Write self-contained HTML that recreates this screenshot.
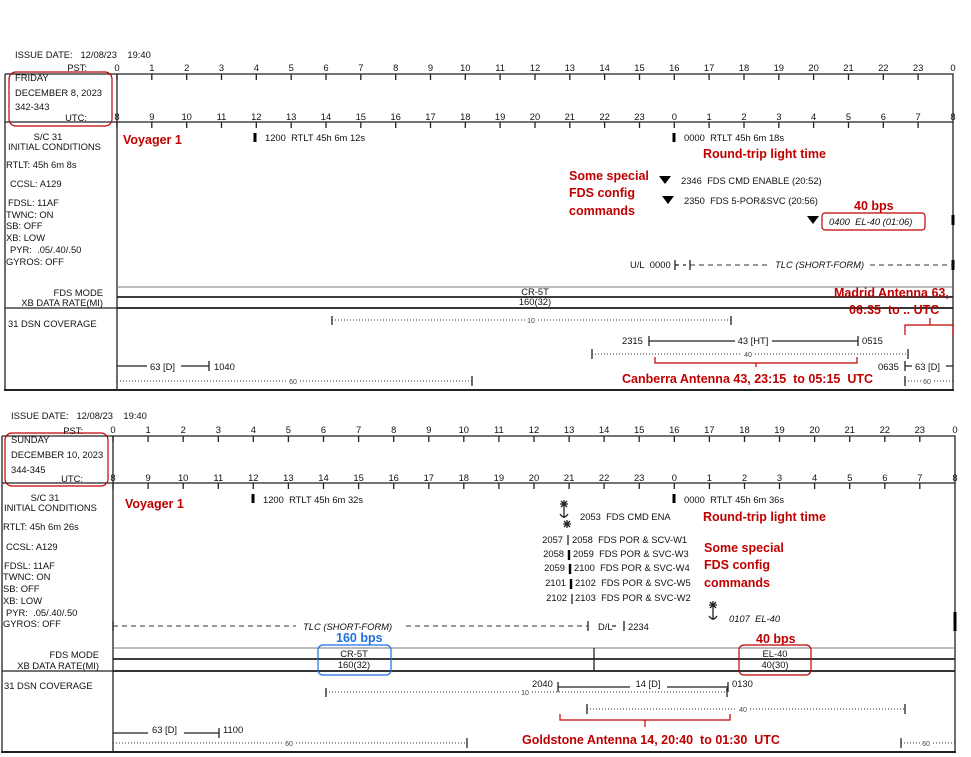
<!DOCTYPE html>
<html><head><meta charset="utf-8"><style>
html,body{margin:0;padding:0;background:#fff;}
svg{display:block;}
text{font-family:"Liberation Sans",Arial,sans-serif;font-size:9.4px;fill:#111;}
.r{fill:#c00000;font-weight:bold;font-size:12.5px;}
.b{fill:#1f6fe0;font-weight:bold;font-size:12.5px;}
.i{font-style:italic;}
.s{font-size:7px;fill:#444;}
.m{text-anchor:middle;}
.e{text-anchor:end;}
</style></head><body>
<svg width="971" height="757" viewBox="0 0 971 757" xmlns="http://www.w3.org/2000/svg">
<g stroke="#222" fill="none" stroke-width="1.3">
<path d="M5 74H953V390M5 74V390M117 74V390M5 122H953M5 308H953"/>
<path d="M4 390H954" stroke-width="2"/>
<path d="M117 287H953" stroke="#777" stroke-width="1"/>
<path d="M117 297H953M117 308H953" stroke-width="1.8"/>
<path d="M117 74v6M151.8 74v6M186.7 74v6M221.5 74v6M256.3 74v6M291.2 74v6M326 74v6M360.8 74v6M395.7 74v6M430.5 74v6M465.3 74v6M500.1 74v6M535 74v6M569.8 74v6M604.6 74v6M639.5 74v6M674.3 74v6M709.1 74v6M744 74v6M778.8 74v6M813.6 74v6M848.5 74v6M883.3 74v6M918.1 74v6"/>
<path d="M117 122v6M151.8 122v6M186.7 122v6M221.5 122v6M256.3 122v6M291.2 122v6M326 122v6M360.8 122v6M395.7 122v6M430.5 122v6M465.3 122v6M500.1 122v6M535 122v6M569.8 122v6M604.6 122v6M639.5 122v6M674.3 122v6M709.1 122v6M744 122v6M778.8 122v6M813.6 122v6M848.5 122v6M883.3 122v6M918.1 122v6"/>
<path d="M255 133v9M674 133v9M953 215v10M953 260v10" stroke-width="3" stroke="#000"/>
<path d="M675 260v10M675 265h4M683 265h3M690 260v10"/>
<path d="M332 316v9M731 316v9M592 349v10M908 349v10M649 336v10M858 336v10M209 361v10M905 361v10M472 376v10M905 376v10"/>
<path d="M649 341H735M772 341H858M117 366H147M181 366H209M905 366H912M946 366H953"/>
</g>
<g stroke="#333" fill="none" stroke-width="1">
<path d="M690 265H770M870 265H953" stroke-dasharray="5,4"/>
<path d="M332 320H525M538 320H731M592 354H742M755 354H908M117 381H286M300 381H472M905 381H921M934 381H953" stroke-dasharray="1,2"/>
</g>
<path d="M659 176h12l-6 8z M662 196h12l-6 8z M807 216h12l-6 8z" fill="#000"/>
<g stroke="#c00000" fill="none" stroke-width="1.2">
<rect x="9" y="72" width="103" height="54" rx="7"/>
<rect x="822" y="213" width="103" height="17" rx="3"/>
<path d="M655 357v6H857v-6M756 363v4"/>
<path d="M905 335v-10H953v10M930 325v-7"/>
</g>
<text x="15" y="58">ISSUE DATE:&#160;&#160;&#160;12/08/23&#160;&#160;&#160;&#160;19:40</text>
<text x="87" y="71" class="e">PST:</text>
<text x="15" y="81">FRIDAY</text>
<text x="15" y="96">DECEMBER 8, 2023</text>
<text x="15" y="110">342-343</text>
<text x="87" y="121" class="e">UTC:</text>
<g>
<text x="117" y="71" class="m">0</text><text x="151.8" y="71" class="m">1</text><text x="186.7" y="71" class="m">2</text><text x="221.5" y="71" class="m">3</text><text x="256.3" y="71" class="m">4</text><text x="291.2" y="71" class="m">5</text><text x="326" y="71" class="m">6</text><text x="360.8" y="71" class="m">7</text><text x="395.7" y="71" class="m">8</text><text x="430.5" y="71" class="m">9</text><text x="465.3" y="71" class="m">10</text><text x="500.1" y="71" class="m">11</text><text x="535" y="71" class="m">12</text><text x="569.8" y="71" class="m">13</text><text x="604.6" y="71" class="m">14</text><text x="639.5" y="71" class="m">15</text><text x="674.3" y="71" class="m">16</text><text x="709.1" y="71" class="m">17</text><text x="744" y="71" class="m">18</text><text x="778.8" y="71" class="m">19</text><text x="813.6" y="71" class="m">20</text><text x="848.5" y="71" class="m">21</text><text x="883.3" y="71" class="m">22</text><text x="918.1" y="71" class="m">23</text><text x="953" y="71" class="m">0</text>
<text x="117" y="120" class="m">8</text><text x="151.8" y="120" class="m">9</text><text x="186.7" y="120" class="m">10</text><text x="221.5" y="120" class="m">11</text><text x="256.3" y="120" class="m">12</text><text x="291.2" y="120" class="m">13</text><text x="326" y="120" class="m">14</text><text x="360.8" y="120" class="m">15</text><text x="395.7" y="120" class="m">16</text><text x="430.5" y="120" class="m">17</text><text x="465.3" y="120" class="m">18</text><text x="500.1" y="120" class="m">19</text><text x="535" y="120" class="m">20</text><text x="569.8" y="120" class="m">21</text><text x="604.6" y="120" class="m">22</text><text x="639.5" y="120" class="m">23</text><text x="674.3" y="120" class="m">0</text><text x="709.1" y="120" class="m">1</text><text x="744" y="120" class="m">2</text><text x="778.8" y="120" class="m">3</text><text x="813.6" y="120" class="m">4</text><text x="848.5" y="120" class="m">5</text><text x="883.3" y="120" class="m">6</text><text x="918.1" y="120" class="m">7</text><text x="953" y="120" class="m">8</text>
</g>
<text x="48" y="140" class="m">S/C 31</text>
<text x="8" y="150">INITIAL CONDITIONS</text>
<text x="6" y="168">RTLT: 45h 6m 8s</text>
<text x="10" y="187">CCSL: A129</text>
<text x="8" y="206">FDSL: 11AF</text>
<text x="6" y="218">TWNC: ON</text>
<text x="6" y="229">SB: OFF</text>
<text x="6" y="241">XB: LOW</text>
<text x="10" y="253">PYR:&#160; .05/.40/.50</text>
<text x="6" y="265">GYROS: OFF</text>
<text x="103" y="296" class="e">FDS MODE</text>
<text x="103" y="306" class="e">XB DATA RATE(MI)</text>
<text x="8" y="327">31 DSN COVERAGE</text>
<text x="123" y="144" class="r">Voyager 1</text>
<text x="265" y="141">1200&#160; RTLT 45h 6m 12s</text>
<text x="684" y="141">0000&#160; RTLT 45h 6m 18s</text>
<text x="703" y="158" class="r">Round-trip light time</text>
<text x="569" y="180" class="r">Some special</text>
<text x="569" y="197" class="r">FDS config</text>
<text x="569" y="215" class="r">commands</text>
<text x="681" y="184">2346&#160; FDS CMD ENABLE (20:52)</text>
<text x="684" y="204">2350&#160; FDS 5-POR&amp;SVC (20:56)</text>
<text x="854" y="210" class="r">40 bps</text>
<text x="829" y="225" class="i">0400&#160; EL-40 (01:06)</text>
<text x="630" y="268">U/L&#160; 0000</text>
<text x="775" y="268" class="i">TLC (SHORT-FORM)</text>
<text x="535" y="295" class="m">CR-5T</text>
<text x="535" y="305" class="m">160(32)</text>
<text x="834" y="297" class="r">Madrid Antenna 63,</text>
<text x="849" y="314" class="r">06:35&#160; to .. UTC</text>
<text x="531" y="323" class="s m">10</text>
<text x="622" y="344">2315</text>
<text x="753" y="344" class="m">43 [HT]</text>
<text x="862" y="344">0515</text>
<text x="748" y="357" class="s m">40</text>
<text x="150" y="370">63 [D]</text>
<text x="214" y="370">1040</text>
<text x="878" y="370">0635</text>
<text x="915" y="370">63 [D]</text>
<text x="293" y="384" class="s m">60</text>
<text x="927" y="384" class="s m">60</text>
<text x="622" y="383" class="r">Canberra Antenna 43, 23:15&#160; to 05:15&#160; UTC</text>

<g stroke="#222" fill="none" stroke-width="1.3">
<path d="M2 436H955V752M2 436V752M113 436V752M2 483H955M2 671H955"/>
<path d="M1 752H956" stroke-width="2"/>
<path d="M113 648H955" stroke="#777" stroke-width="1"/>
<path d="M113 659H955M113 671H955" stroke-width="1.8"/>
<path d="M594 648V671"/>
<path d="M113 436v6M148.1 436v6M183.2 436v6M218.3 436v6M253.3 436v6M288.4 436v6M323.5 436v6M358.6 436v6M393.7 436v6M428.8 436v6M463.8 436v6M498.9 436v6M534 436v6M569.1 436v6M604.1 436v6M639.2 436v6M674.3 436v6M709.4 436v6M744.5 436v6M779.5 436v6M814.6 436v6M849.7 436v6M884.8 436v6M919.8 436v6"/>
<path d="M113 483v6M148.1 483v6M183.2 483v6M218.3 483v6M253.3 483v6M288.4 483v6M323.5 483v6M358.6 483v6M393.7 483v6M428.8 483v6M463.8 483v6M498.9 483v6M534 483v6M569.1 483v6M604.1 483v6M639.2 483v6M674.3 483v6M709.4 483v6M744.5 483v6M779.5 483v6M814.6 483v6M849.7 483v6M884.8 483v6M919.8 483v6"/>
<path d="M253 494v9M674 494v9M955 612v19" stroke-width="3" stroke="#000"/>
<path d="M568 535v10M572 594v10" stroke-width="1.3"/>
<path d="M569 550v10M570 564v10M571 579v10" stroke-width="2.4" stroke="#000"/>
<path d="M560 504h8M564 500v8M561 501l6 6M567 501l-6 6M564 508v10M560 514q4 6 8 0"/>
<path d="M563 524h8M567 520v8M564 521l6 6M570 521l-6 6"/>
<path d="M709 605h8M713 601v8M710 602l6 6M716 602l-6 6M713 609v11M709 616q4 6 8 0"/>
<path d="M588 621v10M624 621v10M612 626h4M113 621v10"/>
<path d="M326 688v9M727 688v9M558 682v10M728 682v10M587 704v10M905 704v10M219 728v10M467 738v10M901 738v10"/>
<path d="M558 687H630M667 687H728M113 733H148M184 733H219"/>
</g>
<g stroke="#333" fill="none" stroke-width="1">
<path d="M113 626H296M406 626H588" stroke-dasharray="5,4"/>
<path d="M326 692H519M532 692H727M587 709H737M750 709H905M113 743H282M296 743H467M901 743H920M933 743H955" stroke-dasharray="1,2"/>
</g>
<g stroke="#c00000" fill="none" stroke-width="1.2">
<rect x="5" y="433" width="103" height="53" rx="7"/>
<rect x="739" y="645" width="72" height="30" rx="5"/>
<path d="M560 714v6H730v-6M645 720v7"/>
</g>
<rect x="318" y="645" width="73" height="30" rx="5" fill="none" stroke="#1f6fe0" stroke-width="1.2"/>
<text x="11" y="419">ISSUE DATE:&#160;&#160;&#160;12/08/23&#160;&#160;&#160;&#160;19:40</text>
<text x="83" y="434" class="e">PST:</text>
<text x="11" y="443">SUNDAY</text>
<text x="11" y="458">DECEMBER 10, 2023</text>
<text x="11" y="473">344-345</text>
<text x="83" y="482" class="e">UTC:</text>
<g>
<text x="113" y="433" class="m">0</text><text x="148.1" y="433" class="m">1</text><text x="183.2" y="433" class="m">2</text><text x="218.3" y="433" class="m">3</text><text x="253.3" y="433" class="m">4</text><text x="288.4" y="433" class="m">5</text><text x="323.5" y="433" class="m">6</text><text x="358.6" y="433" class="m">7</text><text x="393.7" y="433" class="m">8</text><text x="428.8" y="433" class="m">9</text><text x="463.8" y="433" class="m">10</text><text x="498.9" y="433" class="m">11</text><text x="534" y="433" class="m">12</text><text x="569.1" y="433" class="m">13</text><text x="604.1" y="433" class="m">14</text><text x="639.2" y="433" class="m">15</text><text x="674.3" y="433" class="m">16</text><text x="709.4" y="433" class="m">17</text><text x="744.5" y="433" class="m">18</text><text x="779.5" y="433" class="m">19</text><text x="814.6" y="433" class="m">20</text><text x="849.7" y="433" class="m">21</text><text x="884.8" y="433" class="m">22</text><text x="919.8" y="433" class="m">23</text><text x="955" y="433" class="m">0</text>
<text x="113" y="481" class="m">8</text><text x="148.1" y="481" class="m">9</text><text x="183.2" y="481" class="m">10</text><text x="218.3" y="481" class="m">11</text><text x="253.3" y="481" class="m">12</text><text x="288.4" y="481" class="m">13</text><text x="323.5" y="481" class="m">14</text><text x="358.6" y="481" class="m">15</text><text x="393.7" y="481" class="m">16</text><text x="428.8" y="481" class="m">17</text><text x="463.8" y="481" class="m">18</text><text x="498.9" y="481" class="m">19</text><text x="534" y="481" class="m">20</text><text x="569.1" y="481" class="m">21</text><text x="604.1" y="481" class="m">22</text><text x="639.2" y="481" class="m">23</text><text x="674.3" y="481" class="m">0</text><text x="709.4" y="481" class="m">1</text><text x="744.5" y="481" class="m">2</text><text x="779.5" y="481" class="m">3</text><text x="814.6" y="481" class="m">4</text><text x="849.7" y="481" class="m">5</text><text x="884.8" y="481" class="m">6</text><text x="919.8" y="481" class="m">7</text><text x="955" y="481" class="m">8</text>
</g>
<text x="45" y="501" class="m">S/C 31</text>
<text x="4" y="511">INITIAL CONDITIONS</text>
<text x="3" y="530">RTLT: 45h 6m 26s</text>
<text x="6" y="550">CCSL: A129</text>
<text x="4" y="569">FDSL: 11AF</text>
<text x="3" y="580">TWNC: ON</text>
<text x="3" y="592">SB: OFF</text>
<text x="3" y="604">XB: LOW</text>
<text x="6" y="616">PYR:&#160; .05/.40/.50</text>
<text x="3" y="627">GYROS: OFF</text>
<text x="99" y="658" class="e">FDS MODE</text>
<text x="99" y="669" class="e">XB DATA RATE(MI)</text>
<text x="4" y="689">31 DSN COVERAGE</text>
<text x="125" y="508" class="r">Voyager 1</text>
<text x="263" y="503">1200&#160; RTLT 45h 6m 32s</text>
<text x="684" y="503">0000&#160; RTLT 45h 6m 36s</text>
<text x="703" y="521" class="r">Round-trip light time</text>
<text x="580" y="520">2053&#160; FDS CMD ENA</text>
<text x="563" y="543" class="e">2057</text><text x="572" y="543">2058&#160; FDS POR &amp; SCV-W1</text>
<text x="564" y="557" class="e">2058</text><text x="573" y="557">2059&#160; FDS POR &amp; SVC-W3</text>
<text x="565" y="571" class="e">2059</text><text x="574" y="571">2100&#160; FDS POR &amp; SVC-W4</text>
<text x="566" y="586" class="e">2101</text><text x="575" y="586">2102&#160; FDS POR &amp; SVC-W5</text>
<text x="567" y="601" class="e">2102</text><text x="575" y="601">2103&#160; FDS POR &amp; SVC-W2</text>
<text x="704" y="552" class="r">Some special</text>
<text x="704" y="569" class="r">FDS config</text>
<text x="704" y="587" class="r">commands</text>
<text x="729" y="622" class="i">0107&#160; EL-40</text>
<text x="303" y="630" class="i">TLC (SHORT-FORM)</text>
<text x="598" y="630">D/L</text>
<text x="628" y="630">2234</text>
<text x="336" y="642" class="b">160 bps</text>
<text x="756" y="643" class="r">40 bps</text>
<text x="354" y="657" class="m">CR-5T</text>
<text x="354" y="668" class="m">160(32)</text>
<text x="775" y="657" class="m">EL-40</text>
<text x="775" y="668" class="m">40(30)</text>
<text x="532" y="687">2040</text>
<text x="648" y="687" class="m">14 [D]</text>
<text x="732" y="687">0130</text>
<text x="525" y="695" class="s m">10</text>
<text x="743" y="712" class="s m">40</text>
<text x="152" y="733">63 [D]</text>
<text x="223" y="733">1100</text>
<text x="289" y="746" class="s m">60</text>
<text x="926" y="746" class="s m">60</text>
<text x="522" y="744" class="r">Goldstone Antenna 14, 20:40&#160; to 01:30&#160; UTC</text>
</svg>
</body></html>
